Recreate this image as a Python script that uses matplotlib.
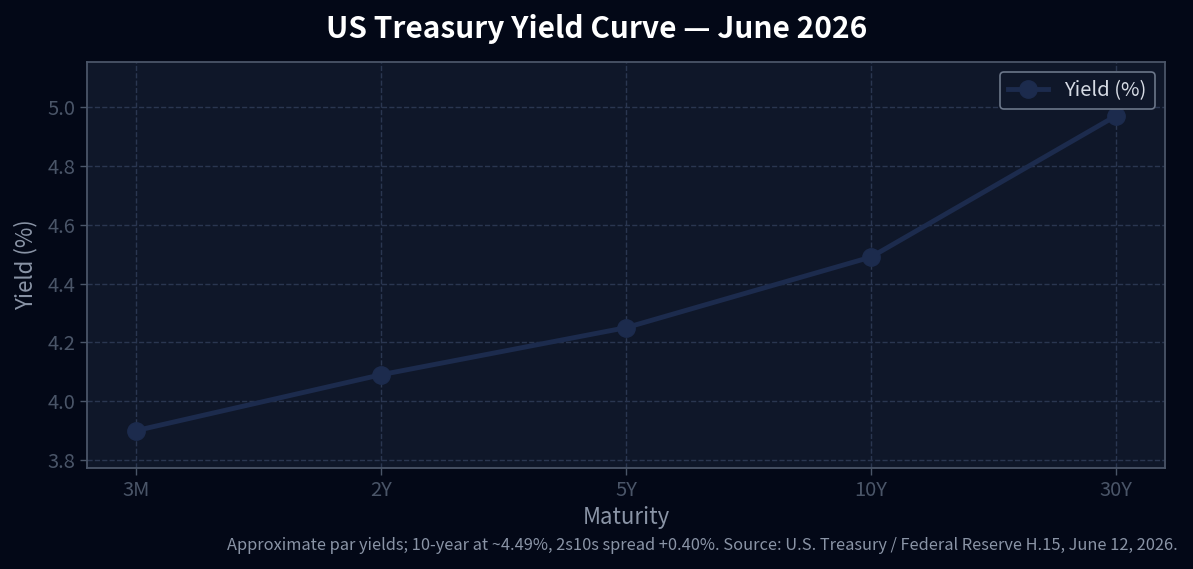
import matplotlib
matplotlib.use("Agg")
import matplotlib.pyplot as plt

# datos de la curva
vencimientos = ["3M", "2Y", "5Y", "10Y", "30Y"]
rendimientos = [3.90, 4.09, 4.25, 4.49, 4.97]
marcas_y = [3.8, 4.0, 4.2, 4.4, 4.6, 4.8, 5.0]

plt.rcParams['font.family'] = ['Noto Sans CJK KR', 'DejaVu Sans']

fig = plt.figure(figsize=(11.93, 5.69), dpi=100, facecolor='#030817')
ax = fig.add_axes([87/1193, 1 - 468/569, (1165-87)/1193, (468-62)/569])
ax.set_facecolor('#0f1729')

x = list(range(len(vencimientos)))
ax.plot(x, rendimientos, marker='o', color='#1c2b4d', linewidth=3.5,
        markersize=12.5, label="Yield (%)")

ax.set_xticks(x)
ax.set_xticklabels(vencimientos)
ax.set_yticks(marcas_y)
ax.set_ylim(3.773, 5.153)
ax.set_xlim(-0.2, 4.2)

ax.grid(True, color='#2a3650', linestyle='--', linewidth=1)
for s in ax.spines.values():
    s.set_color('#4a5568')
    s.set_linewidth(1.3)
ax.tick_params(colors='#4a5568', labelcolor='#4a5568', labelsize=14.5, length=5, width=1)

ax.set_xlabel("Maturity", color='#8a94a6', fontsize=16, labelpad=4)
ax.set_ylabel("Yield (%)", color='#8a94a6', fontsize=16, labelpad=7)

leg = ax.legend(loc='upper right', fontsize=14.5, facecolor='#0f1729',
                edgecolor='#6b7689', labelcolor='#d6dbe4', framealpha=1)
leg.get_frame().set_linewidth(1.2)

fig.text(0.5, 1 - 29/569, "US Treasury Yield Curve — June 2026", ha='center', va='center',
         color='white', fontsize=21.5, fontweight='bold')
fig.text(1178/1193, 1 - 545/569,
         "Approximate par yields; 10-year at ~4.49%, 2s10s spread +0.40%. Source: U.S. Treasury / Federal Reserve H.15, June 12, 2026.",
         ha='right', va='center', color='#8a94a6', fontsize=11.8)

fig.savefig("out.png", dpi=100, facecolor=fig.get_facecolor())
